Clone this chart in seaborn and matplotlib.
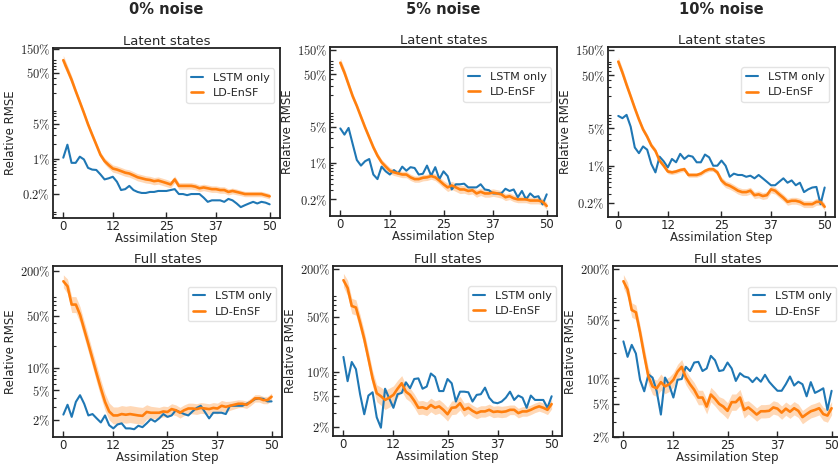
import matplotlib
matplotlib.use("Agg")
import matplotlib.pyplot as plt
import matplotlib.ticker as mticker
import numpy as np
import pandas as pd
import seaborn as sns

# assimilation steps 0..50
steps = list(range(51))
x_ticks = [0, 12, 25, 37, 50]

col_titles = ["0% noise", "5% noise", "10% noise"]
row_titles = ["Latent states", "Full states"]

top_yticks = [0.2, 1, 5, 50, 150]
top_ylabels = [r"$0.2\%$", r"$1\%$", r"$5\%$", r"$50\%$", r"$150\%$"]
bot_yticks = [2, 5, 10, 50, 200]
bot_ylabels = [r"$2\%$", r"$5\%$", r"$10\%$", r"$50\%$", r"$200\%$"]

# relative RMSE in percent
# latent states, 0% noise
lat0_lstm = [1.05, 1.9, 0.83, 0.83, 1.1, 0.97, 0.66, 0.61, 0.6, 0.49,
             0.39, 0.41, 0.44, 0.35, 0.24, 0.25, 0.29, 0.24, 0.22, 0.21,
             0.21, 0.22, 0.22, 0.23, 0.23, 0.23, 0.24, 0.25, 0.2, 0.2,
             0.19, 0.2, 0.2, 0.2, 0.17, 0.14, 0.15, 0.15, 0.15, 0.14,
             0.16, 0.15, 0.13, 0.11, 0.12, 0.13, 0.14, 0.13, 0.14, 0.135, 0.125]
lat0_ensf = [90, 58, 37, 22, 13.4, 8.1, 4.8, 3.0, 1.9, 1.2,
             0.9, 0.75, 0.64, 0.61, 0.57, 0.53, 0.51, 0.47, 0.43, 0.41,
             0.39, 0.38, 0.36, 0.37, 0.35, 0.33, 0.31, 0.39, 0.29, 0.29,
             0.29, 0.29, 0.28, 0.26, 0.27, 0.26, 0.25, 0.25, 0.24, 0.24,
             0.22, 0.23, 0.22, 0.21, 0.2, 0.2, 0.2, 0.2, 0.2, 0.19, 0.18]
lat0_band = [1.25, 1.22, 1.2, 1.15, 1.13, 1.13, 1.13, 1.13, 1.13, 1.13,
             1.15, 1.17, 1.18, 1.18, 1.18, 1.18, 1.18, 1.18, 1.18, 1.18,
             1.18, 1.18, 1.18, 1.18, 1.18, 1.18, 1.17, 1.17, 1.16, 1.16,
             1.16, 1.16, 1.16, 1.16, 1.16, 1.16, 1.16, 1.16, 1.16, 1.16,
             1.15, 1.14, 1.14, 1.13, 1.13, 1.13, 1.13, 1.13, 1.13, 1.13, 1.13]

# latent states, 5% noise
lat5_lstm = [4.6, 3.5, 4.7, 2.3, 1.14, 0.89, 1.08, 1.19, 0.6, 0.49,
             0.85, 0.69, 0.6, 0.73, 0.63, 0.85, 0.71, 0.83, 0.8, 0.6,
             0.62, 0.89, 0.57, 0.83, 0.49, 0.69, 0.56, 0.31, 0.39, 0.39,
             0.4, 0.34, 0.34, 0.34, 0.39, 0.31, 0.3, 0.26, 0.26, 0.26,
             0.32, 0.29, 0.31, 0.22, 0.29, 0.2, 0.26, 0.22, 0.23, 0.16, 0.25]
lat5_ensf = [84, 54, 32, 19, 12.4, 7.7, 4.8, 3.1, 2.0, 1.38,
             1.03, 0.85, 0.71, 0.66, 0.63, 0.6, 0.6, 0.53, 0.49, 0.49,
             0.52, 0.53, 0.56, 0.53, 0.46, 0.39, 0.34, 0.37, 0.34, 0.31,
             0.31, 0.29, 0.3, 0.26, 0.28, 0.26, 0.26, 0.27, 0.26, 0.25,
             0.22, 0.23, 0.21, 0.2, 0.2, 0.2, 0.19, 0.19, 0.19, 0.18, 0.15]
lat5_band = [1.22, 1.2, 1.18, 1.15, 1.13, 1.13, 1.13, 1.13, 1.13, 1.13,
             1.14, 1.15, 1.15, 1.15, 1.15, 1.15, 1.15, 1.15, 1.15, 1.15,
             1.15, 1.15, 1.15, 1.16, 1.17, 1.18, 1.2, 1.2, 1.2, 1.2,
             1.18, 1.18, 1.18, 1.18, 1.18, 1.18, 1.18, 1.18, 1.18, 1.18,
             1.16, 1.16, 1.16, 1.16, 1.16, 1.16, 1.16, 1.16, 1.16, 1.16, 1.16]

# latent states, 10% noise
lat10_lstm = [8.6, 7.8, 9.0, 5.4, 2.2, 1.72, 2.3, 2.0, 1.08, 0.75,
              1.48, 1.21, 0.93, 1.34, 1.16, 1.67, 1.34, 1.55, 1.48, 1.16,
              1.16, 1.62, 1.44, 1.0, 1.0, 1.25, 1.0, 0.62, 0.71, 0.67,
              0.67, 0.62, 0.65, 0.58, 0.67, 0.58, 0.5, 0.43, 0.43, 0.5,
              0.58, 0.48, 0.53, 0.43, 0.48, 0.32, 0.36, 0.39, 0.4, 0.19, 0.39]
lat10_ensf = [90, 56, 33, 20, 12, 7.4, 4.8, 3.5, 2.4, 1.9,
              1.25, 1.0, 0.78, 0.75, 0.78, 0.83, 0.86, 0.67, 0.67, 0.67,
              0.71, 0.8, 0.86, 0.86, 0.75, 0.53, 0.45, 0.42, 0.38, 0.34,
              0.32, 0.32, 0.34, 0.28, 0.29, 0.27, 0.28, 0.36, 0.34, 0.29,
              0.25, 0.21, 0.22, 0.22, 0.21, 0.19, 0.19, 0.19, 0.21, 0.21, 0.17]
lat10_band = [1.22, 1.2, 1.18, 1.15, 1.13, 1.12, 1.12, 1.12, 1.12, 1.12,
              1.1, 1.1, 1.1, 1.1, 1.1, 1.1, 1.1, 1.1, 1.1, 1.1,
              1.1, 1.1, 1.1, 1.1, 1.12, 1.15, 1.16, 1.16, 1.16, 1.16,
              1.16, 1.16, 1.16, 1.16, 1.16, 1.16, 1.16, 1.16, 1.16, 1.16,
              1.16, 1.16, 1.16, 1.16, 1.16, 1.16, 1.16, 1.16, 1.16, 1.16, 1.16]

# full states, 0% noise
full0_lstm = [2.36, 3.2, 2.2, 3.5, 4.3, 3.3, 2.3, 2.4, 2.1, 1.85,
              2.3, 1.7, 1.54, 1.74, 1.8, 1.54, 1.54, 1.5, 1.67, 1.6,
              1.8, 2.05, 1.9, 2.1, 2.4, 2.2, 2.3, 2.7, 2.55, 2.4,
              2.3, 2.6, 2.9, 3.1, 2.55, 2.1, 2.5, 2.5, 2.5, 2.4,
              3.1, 3.1, 3.1, 3.1, 3.3, 3.5, 3.8, 3.9, 3.85, 3.55, 3.55]
full0_ensf = [146, 125, 71, 71, 52, 33, 21, 13.2, 8.3, 5.3,
              3.5, 2.6, 2.3, 2.3, 2.4, 2.35, 2.4, 2.35, 2.3, 2.27,
              2.56, 2.5, 2.5, 2.5, 2.6, 2.56, 2.8, 2.7, 2.5, 2.7,
              2.85, 2.85, 2.8, 2.9, 2.85, 2.8, 2.9, 2.85, 3.1, 3.0,
              3.1, 3.2, 3.3, 3.3, 3.2, 3.5, 3.9, 3.9, 3.7, 3.7, 4.1]
full0_band = [1.22, 1.25, 1.28, 1.28, 1.28, 1.28, 1.28, 1.28, 1.3, 1.3,
              1.3, 1.3, 1.3, 1.3, 1.3, 1.3, 1.3, 1.3, 1.3, 1.3,
              1.25, 1.22, 1.2, 1.18, 1.18, 1.18, 1.18, 1.18, 1.18, 1.18,
              1.18, 1.18, 1.18, 1.18, 1.18, 1.18, 1.18, 1.18, 1.18, 1.18,
              1.15, 1.14, 1.13, 1.12, 1.12, 1.12, 1.12, 1.12, 1.12, 1.12, 1.12]

# full states, 5% noise
full5_lstm = [15.4, 7.6, 13.3, 10.8, 5.2, 2.9, 5.0, 5.5, 2.65, 1.96,
              6.1, 4.6, 3.5, 5.2, 5.4, 7.35, 6.2, 8.1, 8.25, 6.1,
              6.5, 9.5, 8.6, 5.7, 5.7, 8.1, 7.15, 4.2, 5.6, 5.6,
              5.5, 4.2, 5.1, 5.2, 6.3, 4.7, 4.1, 4.0, 4.2, 4.7,
              5.6, 4.4, 5.0, 4.7, 3.5, 5.0, 4.4, 4.4, 4.4, 3.5, 4.9]
full5_ensf = [144, 115, 68, 65, 42, 26, 14.7, 8.25, 5.35, 4.9,
              4.4, 4.7, 5.1, 6.1, 7.15, 5.6, 5.1, 4.3, 3.5, 3.55,
              3.4, 3.8, 3.5, 3.65, 3.3, 2.9, 3.5, 3.55, 4.0, 3.3,
              3.5, 3.2, 3.0, 3.15, 3.15, 3.3, 3.1, 3.15, 3.1, 3.15,
              3.3, 3.3, 3.0, 3.15, 3.15, 3.3, 3.5, 3.65, 3.5, 3.3, 3.9]
full5_band = [1.22, 1.25, 1.25, 1.25, 1.25, 1.25, 1.25, 1.25, 1.28, 1.3,
              1.32, 1.32, 1.3, 1.28, 1.25, 1.22, 1.22, 1.22, 1.22, 1.22,
              1.22, 1.22, 1.22, 1.22, 1.22, 1.22, 1.22, 1.22, 1.22, 1.22,
              1.18, 1.18, 1.18, 1.18, 1.18, 1.18, 1.18, 1.18, 1.18, 1.18,
              1.15, 1.15, 1.15, 1.15, 1.15, 1.15, 1.15, 1.15, 1.15, 1.15, 1.15]

# full states, 10% noise
full10_lstm = [27.5, 18, 25, 19.7, 9.6, 7.0, 11.1, 10.2, 7.0, 3.7,
               10.2, 8.3, 5.9, 9.6, 9.8, 13.7, 12.2, 15.4, 15.7, 12.2,
               13.1, 18.5, 16.4, 12.2, 12.5, 15.4, 13.1, 9.3, 11.5, 10.5,
               10.2, 9.0, 10.2, 9.1, 11.0, 9.1, 8.0, 7.1, 7.1, 8.5,
               10.5, 8.2, 9.1, 8.5, 6.1, 9.0, 6.7, 7.1, 7.6, 4.2, 7.1]
full10_ensf = [143, 114, 65, 61, 35, 18.8, 10.5, 8.0, 7.6, 9.0,
               8.0, 8.5, 9.6, 12, 13.7, 10.2, 8.5, 7.3, 5.9, 5.9,
               4.6, 6.4, 5.7, 4.95, 4.6, 4.1, 5.2, 5.2, 5.9, 4.2,
               4.5, 4.1, 3.7, 4.05, 4.05, 4.1, 4.5, 4.35, 3.9, 4.35,
               4.0, 4.4, 4.1, 3.45, 3.75, 4.05, 4.2, 4.4, 3.75, 3.6, 4.4]
full10_band = [1.2, 1.22, 1.22, 1.22, 1.22, 1.25, 1.25, 1.25, 1.25, 1.25,
               1.22, 1.22, 1.22, 1.22, 1.22, 1.22, 1.22, 1.22, 1.22, 1.22,
               1.22, 1.22, 1.22, 1.22, 1.25, 1.25, 1.25, 1.25, 1.25, 1.25,
               1.2, 1.2, 1.2, 1.2, 1.2, 1.2, 1.2, 1.2, 1.2, 1.2,
               1.2, 1.2, 1.2, 1.2, 1.2, 1.2, 1.2, 1.2, 1.2, 1.2, 1.2]

panels = [
    (lat0_lstm, lat0_ensf, lat0_band),
    (lat5_lstm, lat5_ensf, lat5_band),
    (lat10_lstm, lat10_ensf, lat10_band),
    (full0_lstm, full0_ensf, full0_band),
    (full5_lstm, full5_ensf, full5_band),
    (full10_lstm, full10_ensf, full10_band),
]
ylims = [(0.067, 157), (0.096, 168), (0.109, 169),
         (1.18, 234), (1.54, 218), (2.0, 217)]

# axes rectangles in figure fractions (left, bottom, width, height)
rects = [
    [0.0632, 0.5312, 0.2709, 0.3656],
    [0.3938, 0.5355, 0.2709, 0.3634],
    [0.7255, 0.5333, 0.2709, 0.3656],
    [0.0632, 0.0602, 0.2733, 0.3677],
    [0.3974, 0.0624, 0.2733, 0.3656],
    [0.7315, 0.0602, 0.2733, 0.3677],
]

sns.set_theme(style="ticks")
plt.rcParams["font.family"] = ["DejaVu Sans"]
plt.rcParams["mathtext.fontset"] = "cm"

blue = "#1f77b4"
orange = "#ff7f0e"

fig = plt.figure(figsize=(8.38, 4.65), dpi=100)

for i, (lstm, ensf, band) in enumerate(panels):
    ax = fig.add_axes(rects[i])
    df = pd.DataFrame({"step": steps, "lstm": lstm, "ensf": ensf, "band": band})
    sns.lineplot(data=df, x="step", y="lstm", ax=ax, color=blue,
                 linewidth=1.5, label="LSTM only")
    sns.lineplot(data=df, x="step", y="ensf", ax=ax, color=orange,
                 linewidth=1.9, label="LD-EnSF")
    ax.fill_between(df["step"], df["ensf"] / df["band"], df["ensf"] * df["band"],
                    color=orange, alpha=0.3, linewidth=0)

    ax.set_yscale("log")
    ax.set_ylim(*ylims[i])
    ax.set_xlim(-2.5, 52.5)
    ax.set_xticks(x_ticks)
    if i < 3:
        ax.set_yticks(top_yticks)
        ax.set_yticklabels(top_ylabels)
    else:
        ax.set_yticks(bot_yticks)
        ax.set_yticklabels(bot_ylabels)
    ax.yaxis.set_minor_formatter(mticker.NullFormatter())

    ax.tick_params(axis="both", which="both", direction="in")
    ax.tick_params(axis="both", which="major", length=4, width=1)
    ax.tick_params(axis="both", which="minor", length=2, width=0.8)
    ax.tick_params(axis="x", labelsize=8.5, pad=1.5)
    ax.tick_params(axis="y", labelsize=9, pad=2)
    for s in ax.spines.values():
        s.set_visible(True)
        s.set_color("#222222")
        s.set_linewidth(1.3)

    ax.set_xlabel("Assimilation Step", fontsize=8.5, labelpad=-0.5)
    ax.set_ylabel("Relative RMSE", fontsize=8.5, labelpad=2)
    ax.set_title(row_titles[i // 3], fontsize=9.5, pad=2)

    ax.legend(loc="upper right", bbox_to_anchor=(0.975, 0.88), borderaxespad=0,
              fontsize=8, handlelength=1.1, handletextpad=0.9, frameon=True,
              fancybox=True, framealpha=0.8, edgecolor="#dddddd")

    if i < 3:
        cx = rects[i][0] + rects[i][2] / 2
        fig.text(cx, 1 - 10 / 465, col_titles[i], ha="center", va="center",
                 fontsize=10.5, fontweight="bold")

fig.savefig("out.png", dpi=100)
